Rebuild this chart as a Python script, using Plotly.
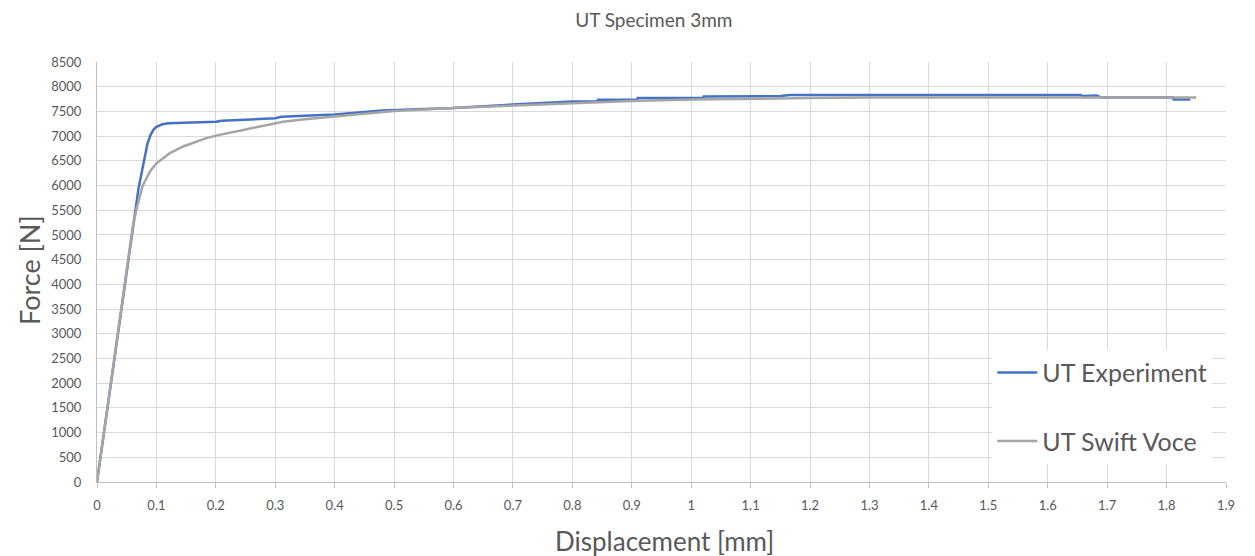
import plotly.graph_objects as go

# UT Experiment (blue)
exp_x = [0, 0.01, 0.02, 0.03, 0.04, 0.05, 0.06, 0.07, 0.08, 0.085, 0.09, 0.095, 0.1, 0.11, 0.12,
         0.15, 0.2, 0.21, 0.3, 0.31, 0.4, 0.48, 0.6, 0.7, 0.8, 0.842, 0.843, 0.909, 0.91, 1.02,
         1.021, 1.15, 1.166, 1.655, 1.66, 1.683, 1.69, 1.81, 1.812, 1.84]
exp_y = [0, 850, 1750, 2600, 3450, 4300, 5200, 5950, 6550, 6850, 7020, 7130, 7190, 7240, 7260,
         7270, 7290, 7310, 7360, 7390, 7440, 7520, 7570, 7640, 7700, 7700, 7735, 7735, 7770, 7770,
         7800, 7810, 7830, 7830, 7810, 7820, 7780, 7780, 7740, 7740]

# UT Swift Voce (gray)
sv_x = [0, 0.01, 0.02, 0.03, 0.04, 0.05, 0.06, 0.066, 0.077, 0.09, 0.1, 0.122, 0.145, 0.184,
        0.204, 0.246, 0.28, 0.313, 0.35, 0.4, 0.45, 0.5, 0.6, 0.7, 0.8, 0.9, 1.0, 1.1, 1.2,
        1.3, 1.5, 1.7, 1.85]
sv_y = [0, 850, 1750, 2600, 3450, 4300, 5150, 5500, 6000, 6300, 6450, 6650, 6790, 6960,
        7020, 7125, 7205, 7290, 7340, 7400, 7460, 7510, 7570, 7620, 7670, 7710, 7740, 7760, 7770,
        7780, 7780, 7780, 7780]

FONT = "Lato"
TXT = "#595959"

fig = go.Figure()
fig.add_trace(go.Scatter(x=exp_x, y=exp_y, mode="lines", name="UT Experiment",
                         line=dict(color="#4472C4", width=2.5), legendgroup="a"))
fig.add_trace(go.Scatter(x=sv_x, y=sv_y, mode="lines", name="UT Swift Voce",
                         line=dict(color="#A5A5A5", width=2.5), legendgroup="b"))

fig.update_layout(
    width=1255, height=556,
    margin=dict(l=97, r=29, t=62, b=74, autoexpand=False),
    paper_bgcolor="white", plot_bgcolor="white",
    font=dict(family=FONT, color=TXT),
    title=dict(text="UT Specimen 3mm", x=0.521, xanchor="center", y=0.963, yanchor="middle",
               font=dict(size=19, color=TXT, family=FONT)),
    legend=dict(x=0.793, xanchor="left", y=0.315, yanchor="top", xref="paper", yref="paper",
                bgcolor="white", borderwidth=0, font=dict(size=25, color=TXT, family=FONT),
                traceorder="grouped", tracegroupgap=33, itemwidth=40),
    xaxis=dict(range=[0, 1.9], dtick=0.1, tick0=0, showgrid=True, gridcolor="#D9D9D9",
               gridwidth=1, showline=True, linecolor="#BFBFBF", linewidth=1,
               ticks="outside", ticklen=5, tickcolor="#BFBFBF", ticklabelstandoff=6,
               tickfont=dict(size=13, color=TXT, family=FONT), zeroline=False,
               automargin=False),
    yaxis=dict(range=[0, 8500], dtick=500, tick0=0, showgrid=True, gridcolor="#D9D9D9",
               gridwidth=1, showline=True, linecolor="#BFBFBF", linewidth=1,
               ticks="", ticklabelstandoff=12,
               tickfont=dict(size=13, color=TXT, family=FONT), zeroline=False,
               automargin=False),
    annotations=[
        dict(text="Displacement [mm]", xref="paper", yref="paper", x=0.503, y=-0.1405,
             xanchor="center", yanchor="middle", showarrow=False,
             font=dict(size=26, color=TXT, family=FONT)),
        dict(text="Force [N]", xref="paper", yref="paper", x=-0.0593, y=0.505,
             xanchor="center", yanchor="middle", showarrow=False, textangle=-90,
             font=dict(size=27, color=TXT, family=FONT)),
    ],
    showlegend=True,
)

fig.write_html("out.html")
